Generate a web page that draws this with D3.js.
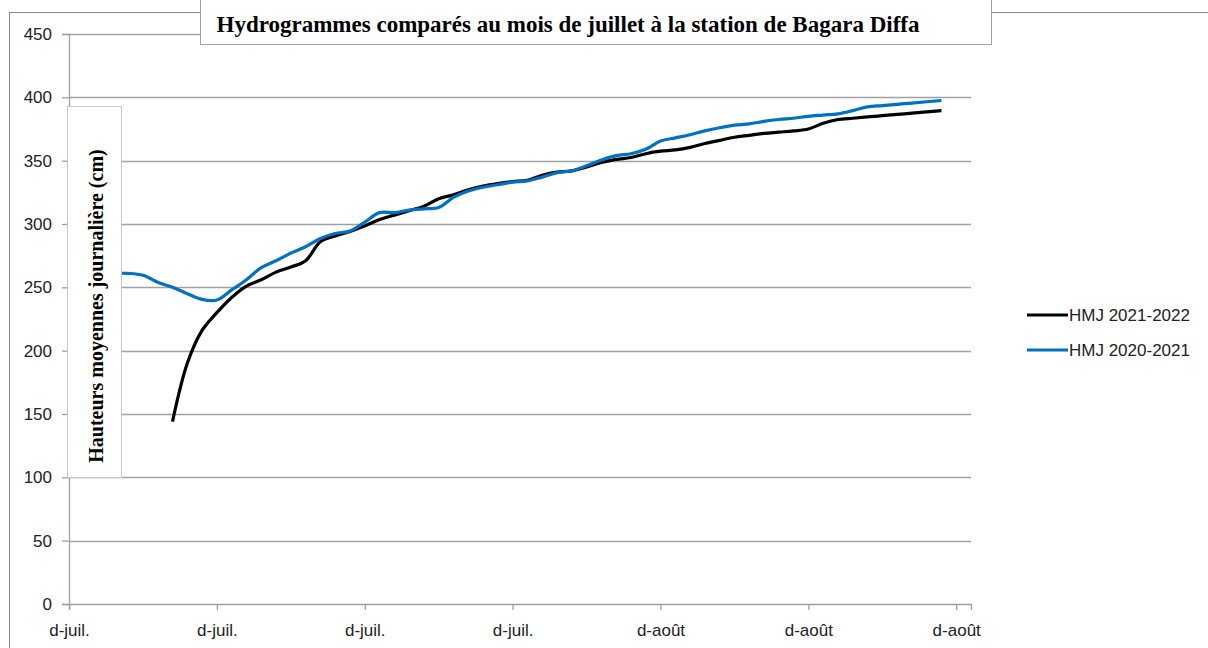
<!DOCTYPE html>
<html>
<head>
<meta charset="utf-8">
<script src="https://cdn.jsdelivr.net/npm/d3@7"></script>
<style>
  html, body { margin: 0; padding: 0; background: #fff; }
  svg { display: block; }
</style>
</head>
<body>
<svg id="chart" width="1208" height="648"></svg>
<script>
// ---- Data ----
const title = "Hydrogrammes comparés au mois de juillet à la station de Bagara Diffa";
const yTitle = "Hauteurs moyennes journalière (cm)";
const seriesNames = ["HMJ 2021-2022", "HMJ 2020-2021"];
const seriesColors = ["#000000", "#0070C0"];

// day index (0 = 1 July) of the first value of each series
const startDay2122 = 7;
const startDay2021 = 0;

const hmj2021_2022 = [144, 190, 216, 230, 242, 251, 256, 262, 266, 271,
  286, 290.5, 294, 298.5, 303.5, 307, 310.5, 314, 320, 323,
  327, 330, 332, 333.5, 334.5, 338.5, 341, 342, 345, 348.5,
  351, 352.5, 355.5, 357.5, 358.5, 360.5, 363.5, 366, 368.5, 370,
  371.5, 372.5, 373.5, 375, 379.5, 382.5, 383.5, 384.5, 385.5, 386.5,
  387.5, 388.5, 389.5];

const hmj2020_2021 = [261, 261, 261, 261, 261, 259.5, 254, 250, 245, 240.5,
  240, 248, 256, 265.5, 271, 277, 282, 288.5, 292.5, 294.5,
  301.5, 309, 309, 311, 312, 313, 321, 326, 329, 331,
  333, 334, 337, 340.5, 342, 346, 350.5, 354, 355.5, 359,
  365.5, 368, 370.5, 373.5, 376, 378, 379, 381, 382.5, 383.5,
  385, 386, 387, 389.5, 392.5, 393.5, 394.5, 395.5, 396.5, 397.5];

const xTickDays = [0, 10, 20, 30, 40, 50, 60];
const xTickLabels = ["d-juil.", "d-juil.", "d-juil.", "d-juil.", "d-août", "d-août", "d-août"];
const yTicks = [0, 50, 100, 150, 200, 250, 300, 350, 400, 450];

// ---- Layout ----
const svg = d3.select("#chart");
const pLeft = 69, pRight = 971, pTop = 34, pBottom = 604;
const x = d3.scaleLinear().domain([0, 61]).range([pLeft, pRight]);
const y = d3.scaleLinear().domain([0, 450]).range([pBottom, pTop]);

const font = "'Liberation Sans', Arial, sans-serif";
const serif = "'Liberation Serif', 'Times New Roman', serif";

// outer chart border
svg.append("rect").attr("x", 9.5).attr("y", 12.5).attr("width", 1220).attr("height", 660)
  .attr("fill", "#fff").attr("stroke", "#8c8c8c").attr("stroke-width", 1);

// gridlines
svg.append("g").selectAll("line").data(yTicks.filter(d => d > 0)).join("line")
  .attr("x1", pLeft).attr("x2", pRight)
  .attr("y1", d => Math.round(y(d)) + 0.5).attr("y2", d => Math.round(y(d)) + 0.5)
  .attr("stroke", "#a0a0a0").attr("stroke-width", 1.3);

// y axis
const yAxis = d3.axisLeft(y).tickValues(yTicks).tickSize(7).tickPadding(10);
const gy = svg.append("g").attr("transform", `translate(${pLeft},0)`).call(yAxis);
gy.select(".domain").attr("stroke", "#a0a0a0").attr("stroke-width", 1.3);
gy.selectAll(".tick line").attr("stroke", "#a0a0a0").attr("stroke-width", 1.3);
gy.selectAll(".tick text").attr("font-family", font).attr("font-size", 17).attr("fill", "#222");

// x axis
const xAxis = d3.axisBottom(x).tickValues(xTickDays).tickSize(6).tickPadding(14)
  .tickFormat((d, i) => xTickLabels[i]);
const gx = svg.append("g").attr("transform", `translate(0,${pBottom})`).call(xAxis);
gx.select(".domain").attr("stroke", "#a0a0a0").attr("stroke-width", 1.3);
gx.selectAll(".tick line").attr("stroke", "#a0a0a0").attr("stroke-width", 1.3);
gx.selectAll(".tick text").attr("font-family", font).attr("font-size", 17).attr("fill", "#222");

// lines
const line = d3.line().curve(d3.curveCatmullRom.alpha(0.5))
  .x(d => x(d.day)).y(d => y(d.v));
const s2122 = hmj2021_2022.map((v, i) => ({ day: startDay2122 + i, v }));
const s2021 = hmj2020_2021.map((v, i) => ({ day: startDay2021 + i, v }));

svg.append("path").datum(s2122).attr("d", line).attr("fill", "none")
  .attr("stroke", seriesColors[0]).attr("stroke-width", 3.2).attr("stroke-linejoin", "round");
svg.append("path").datum(s2021).attr("d", line).attr("fill", "none")
  .attr("stroke", seriesColors[1]).attr("stroke-width", 3.2).attr("stroke-linejoin", "round");

// y title box
svg.append("rect").attr("x", 67.5).attr("y", 106.5).attr("width", 54).attr("height", 371)
  .attr("fill", "#fff").attr("stroke", "#c8c8c8").attr("stroke-width", 1);
svg.append("text").attr("transform", `translate(103,306) rotate(-90)`)
  .attr("text-anchor", "middle").attr("font-family", serif).attr("font-weight", "bold")
  .attr("font-size", 20).attr("fill", "#000").text(yTitle);

// title box
svg.append("rect").attr("x", 200.5).attr("y", -5).attr("width", 791).attr("height", 49.5)
  .attr("fill", "#fff").attr("stroke", "#a0a0a0").attr("stroke-width", 1);
svg.append("text").attr("x", 568).attr("y", 32).attr("text-anchor", "middle")
  .attr("font-family", serif).attr("font-weight", "bold").attr("font-size", 23)
  .attr("fill", "#000").text(title);

// legend
const legY = [315, 350];
seriesNames.forEach((name, i) => {
  svg.append("line").attr("x1", 1027).attr("x2", 1068).attr("y1", legY[i]).attr("y2", legY[i])
    .attr("stroke", seriesColors[i]).attr("stroke-width", 3.2);
  svg.append("text").attr("x", 1069).attr("y", legY[i] + 6).attr("font-family", font)
    .attr("font-size", 17).attr("fill", "#222").text(name);
});
</script>
</body>
</html>
